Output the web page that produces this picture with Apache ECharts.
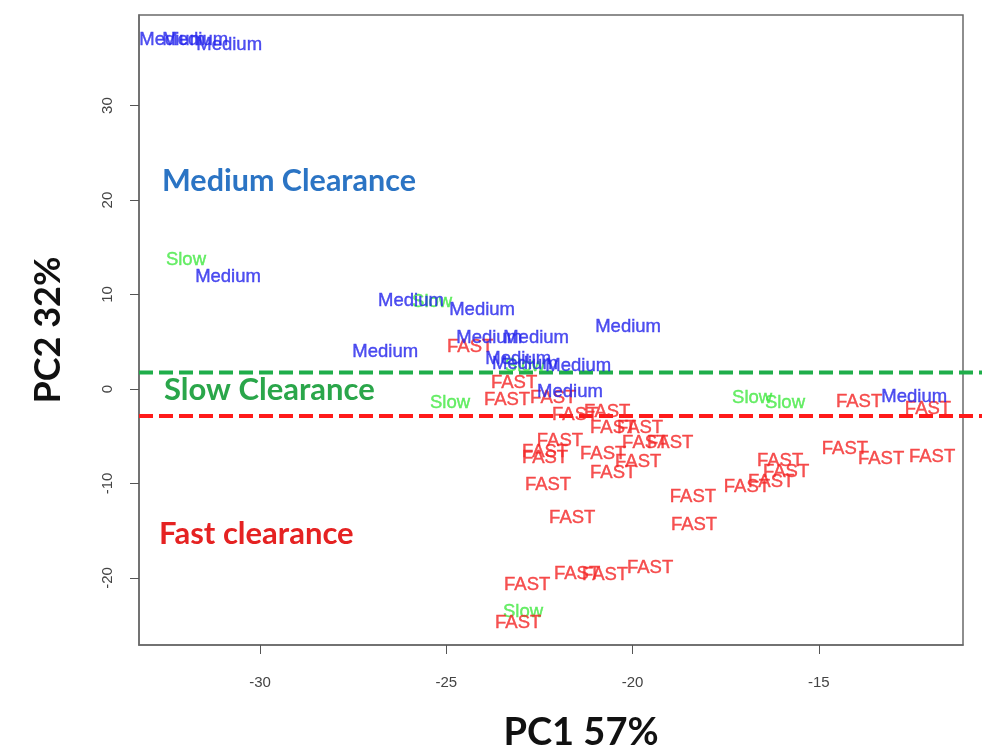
<!DOCTYPE html>
<html>
<head>
<meta charset="utf-8">
<script src="https://cdn.jsdelivr.net/npm/echarts@6/dist/echarts.min.js"></script>
<style>
  html, body { margin: 0; padding: 0; background: #ffffff; }
  #chart { width: 982px; height: 753px; }
</style>
</head>
<body>
<div id="chart"></div>
<script>
// PCA scores (PC1, PC2) for each sample, grouped by clearance class
const mediumPoints = [
  [-32.36, 36.94], [-31.74, 36.94], [-30.83, 36.41],
  [-30.86, 11.85], [-25.95, 9.31], [-24.04, 8.36], [-20.12, 6.56],
  [-23.85, 5.40], [-22.59, 5.40], [-26.64, 3.92], [-23.07, 3.18],
  [-22.89, 2.65], [-21.46, 2.43], [-21.68, -0.32], [-12.44, -0.85]
];
const slowPoints = [
  [-31.99, 13.65], [-25.38, 9.21], [-22.89, 2.43], [-24.90, -1.48],
  [-16.79, -0.95], [-15.91, -1.48], [-22.94, -23.60]
];
const fastPoints = [
  [-24.36, 4.45], [-23.18, 0.64], [-23.37, -1.16], [-22.13, -0.95],
  [-21.54, -2.75], [-20.68, -2.43], [-20.52, -4.13], [-19.80, -4.13],
  [-21.95, -5.50], [-19.66, -5.72], [-18.99, -5.72], [-22.35, -6.67],
  [-22.35, -7.30], [-20.79, -6.88], [-19.85, -7.73], [-20.52, -8.89],
  [-22.27, -10.16], [-18.38, -11.43], [-21.62, -13.65], [-18.35, -14.39],
  [-22.83, -20.75], [-21.49, -19.58], [-20.74, -19.69], [-19.53, -18.95],
  [-23.07, -24.77], [-13.92, -1.38], [-12.07, -2.12], [-14.30, -6.35],
  [-13.33, -7.41], [-11.96, -7.20], [-16.04, -7.62], [-15.88, -8.78],
  [-16.28, -9.84], [-16.93, -10.37]
];

// Class boundaries along PC2
const slowBoundary = 1.75;
const fastBoundary = -2.86;

// Axis extents and tick labels
const xRange = [-33.25, -11.13];
const yRange = [-27.1, 39.59];
const xTicks = [-30, -25, -20, -15];
const yTicks = [-20, -10, 0, 10, 20, 30];
// boundary lines run on past the right edge of the box
const lineEndX = -10.62;

const colors = { medium: '#2424ec', slow: '#44e844', fast: '#f42626' };

function textSeries(name, points, color) {
  return {
    type: 'scatter',
    name: name,
    data: points,
    symbolSize: 1,
    itemStyle: { color: 'transparent' },
    silent: true,
    label: {
      show: true,
      position: 'inside',
      formatter: name,
      color: color,
      textBorderColor: color,
      textBorderWidth: 0.4,
      fontFamily: '"Liberation Sans", Arial, sans-serif',
      fontSize: 18.5
    },
    labelLayout: { hideOverlap: false },
    z: 3
  };
}

function boundarySeries(value, color) {
  return {
    type: 'line',
    xAxisIndex: 1,
    yAxisIndex: 1,
    data: [[xRange[0], value], [lineEndX, value]],
    symbol: 'none',
    silent: true,
    lineStyle: { color: color, width: 4, type: [14, 6] },
    z: 2
  };
}

const axisFont = '"Liberation Sans Narrow", "Liberation Sans", sans-serif';

const chart = echarts.init(document.getElementById('chart'));
chart.setOption({
  animation: false,
  backgroundColor: '#ffffff',
  grid: [
    {
      left: 139, right: 19, top: 15, bottom: 108,
      show: true, borderColor: '#6a6a6a', borderWidth: 1.5, backgroundColor: 'transparent'
    },
    { left: 139, right: 0, top: 15, bottom: 108, show: false }
  ],
  xAxis: [
    {
      type: 'value', gridIndex: 0,
      min: xRange[0], max: xRange[1],
      splitLine: { show: false },
      axisLine: { show: true, onZero: false, lineStyle: { color: '#6a6a6a', width: 1.5 } },
      axisTick: { show: true, length: 9, customValues: xTicks, lineStyle: { color: '#555' } },
      axisLabel: { customValues: xTicks, margin: 30, color: '#444', fontSize: 15, fontFamily: axisFont }
    },
    {
      type: 'value', gridIndex: 1,
      min: xRange[0], max: lineEndX,
      show: false
    }
  ],
  yAxis: [
    {
      type: 'value', gridIndex: 0,
      min: yRange[0], max: yRange[1],
      splitLine: { show: false },
      axisLine: { show: true, onZero: false, lineStyle: { color: '#6a6a6a', width: 1.5 } },
      axisTick: { show: true, length: 9, customValues: yTicks, lineStyle: { color: '#555' } },
      axisLabel: { customValues: yTicks, rotate: 90, margin: 24, color: '#444', fontSize: 15, fontFamily: axisFont }
    },
    {
      type: 'value', gridIndex: 1,
      min: yRange[0], max: yRange[1],
      show: false
    }
  ],
  graphic: [
    { type: 'text', x: 162, y: 181, z: 10, style: { text: 'Medium Clearance', font: 'bold 30.5px Lato, sans-serif', fill: '#2b74c4', textVerticalAlign: 'middle' } },
    { type: 'text', x: 164, y: 390, z: 10, style: { text: 'Slow Clearance', font: 'bold 31px Lato, sans-serif', fill: '#2aa64a', textVerticalAlign: 'middle' } },
    { type: 'text', x: 159, y: 534, z: 10, style: { text: 'Fast clearance', font: 'bold 31px Lato, sans-serif', fill: '#e52222', textVerticalAlign: 'middle' } },
    { type: 'text', x: 581, y: 733, style: { text: 'PC1 57%', font: 'bold 38px Lato, sans-serif', fill: '#111', textAlign: 'center', textVerticalAlign: 'middle' } },
    { type: 'text', x: 48, y: 330, rotation: Math.PI / 2, style: { text: 'PC2 32%', font: 'bold 36px Lato, sans-serif', fill: '#111', textAlign: 'center', textVerticalAlign: 'middle' } }
  ],
  series: [
    boundarySeries(slowBoundary, '#1fae4a'),
    boundarySeries(fastBoundary, '#ff1a1a'),
    textSeries('Slow', slowPoints, colors.slow),
    textSeries('FAST', fastPoints, colors.fast),
    textSeries('Medium', mediumPoints, colors.medium)
  ]
});
</script>
</body>
</html>
